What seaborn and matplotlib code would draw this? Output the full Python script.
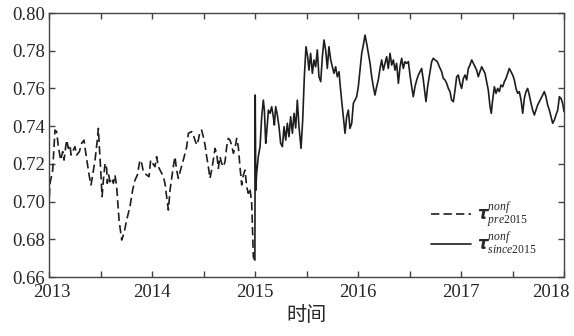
import matplotlib
matplotlib.use("Agg")
import matplotlib.pyplot as plt
import matplotlib.transforms as mtransforms
import seaborn as sns
import numpy as np
import pandas as pd
from matplotlib.ticker import MultipleLocator

# ---------------- data (years since 2013, value) ----------------
pre_t = [0.003, 0.010, 0.036, 0.058, 0.074, 0.091, 0.113, 0.133, 0.146, 0.162,
         0.172, 0.188, 0.204, 0.214, 0.236, 0.252, 0.269, 0.295, 0.317, 0.340,
         0.353, 0.372, 0.392, 0.408, 0.424, 0.447, 0.469, 0.479, 0.489, 0.502,
         0.515, 0.528, 0.544, 0.560, 0.566, 0.579, 0.592, 0.608, 0.625, 0.641,
         0.657, 0.680, 0.706, 0.728, 0.754, 0.786, 0.812, 0.835, 0.858, 0.883,
         0.900, 0.916, 0.948, 0.971, 0.987, 1.006, 1.029, 1.045, 1.061, 1.078,
         1.094, 1.110, 1.126, 1.142, 1.159, 1.175, 1.191, 1.207, 1.223, 1.239,
         1.256, 1.272, 1.304, 1.337, 1.353, 1.385, 1.401, 1.417, 1.434, 1.450,
         1.466, 1.482, 1.498, 1.515, 1.531, 1.547, 1.563, 1.579, 1.595, 1.612,
         1.628, 1.644, 1.660, 1.676, 1.693, 1.709, 1.725, 1.741, 1.757, 1.773,
         1.790, 1.806, 1.822, 1.838, 1.854, 1.871, 1.887, 1.903, 1.919, 1.935,
         1.951, 1.968, 1.984, 1.996]
pre_v = [0.7026, 0.7097, 0.7167, 0.7379, 0.7371, 0.7291, 0.7220, 0.7265, 0.7220, 0.7291,
         0.7326, 0.7282, 0.7300, 0.7247, 0.7273, 0.7291, 0.7247, 0.7265, 0.7309, 0.7326,
         0.7273, 0.7203, 0.7132, 0.7088, 0.7141, 0.7220, 0.7326, 0.7388, 0.7291, 0.7167,
         0.7026, 0.7114, 0.7203, 0.7176, 0.7097, 0.7141, 0.7105, 0.7123, 0.7097, 0.7141,
         0.7079, 0.6902, 0.6796, 0.6832, 0.6902, 0.6973, 0.7061, 0.7114, 0.7141, 0.7220,
         0.7203, 0.7158, 0.7141, 0.7132, 0.7220, 0.7203, 0.7185, 0.7238, 0.7185, 0.7167,
         0.7150, 0.7132, 0.7097, 0.7026, 0.6955, 0.7061, 0.7123, 0.7185, 0.7238, 0.7167,
         0.7123, 0.7158, 0.7220, 0.7291, 0.7362, 0.7371, 0.7353, 0.7326, 0.7300, 0.7326,
         0.7371, 0.7379, 0.7344, 0.7300, 0.7238, 0.7185, 0.7123, 0.7167, 0.7220, 0.7282,
         0.7256, 0.7176, 0.7238, 0.7203, 0.7185, 0.7212, 0.7291, 0.7335, 0.7326, 0.7300,
         0.7256, 0.7282, 0.7335, 0.7291, 0.7185, 0.7088, 0.7141, 0.7167, 0.7079, 0.7044,
         0.7070, 0.6991, 0.6708, 0.6690]

post_t = [1.999, 2.002, 2.008, 2.016, 2.032, 2.049, 2.065, 2.081, 2.091, 2.104,
          2.113, 2.130, 2.146, 2.162, 2.178, 2.188, 2.201, 2.217, 2.233, 2.249,
          2.266, 2.282, 2.298, 2.314, 2.330, 2.346, 2.363, 2.379, 2.395, 2.411,
          2.427, 2.447, 2.463, 2.479, 2.495, 2.511, 2.524, 2.540, 2.557, 2.573,
          2.589, 2.605, 2.621, 2.638, 2.654, 2.670, 2.686, 2.702, 2.718, 2.735,
          2.751, 2.767, 2.783, 2.799, 2.816, 2.825, 2.841, 2.858, 2.874, 2.890,
          2.906, 2.922, 2.939, 2.955, 2.971, 2.987, 3.003, 3.019, 3.036, 3.052,
          3.068, 3.084, 3.100, 3.117, 3.133, 3.149, 3.165, 3.181, 3.197, 3.214,
          3.230, 3.246, 3.262, 3.278, 3.294, 3.311, 3.327, 3.343, 3.359, 3.375,
          3.392, 3.408, 3.424, 3.440, 3.456, 3.472, 3.489, 3.505, 3.521, 3.537,
          3.553, 3.570, 3.586, 3.602, 3.618, 3.634, 3.650, 3.660, 3.676, 3.699,
          3.715, 3.731, 3.748, 3.770, 3.790, 3.812, 3.828, 3.845, 3.861, 3.877,
          3.893, 3.909, 3.926, 3.942, 3.958, 3.974, 3.990, 4.006, 4.023, 4.039,
          4.055, 4.071, 4.087, 4.104, 4.120, 4.136, 4.152, 4.168, 4.184, 4.201,
          4.217, 4.233, 4.249, 4.265, 4.282, 4.294, 4.307, 4.324, 4.340, 4.356,
          4.372, 4.388, 4.405, 4.421, 4.437, 4.453, 4.469, 4.485, 4.502, 4.518,
          4.534, 4.550, 4.566, 4.583, 4.599, 4.615, 4.631, 4.647, 4.663, 4.680,
          4.696, 4.712, 4.728, 4.744, 4.761, 4.777, 4.793, 4.809, 4.825, 4.841,
          4.858, 4.874, 4.890, 4.906, 4.922, 4.939, 4.955, 4.971, 4.987, 5.000]
post_v = [0.6690, 0.7565, 0.7060, 0.7150, 0.7238, 0.7291, 0.7450, 0.7538, 0.7485, 0.7309,
          0.7362, 0.7485, 0.7468, 0.7503, 0.7450, 0.7406, 0.7503, 0.7459, 0.7397, 0.7309,
          0.7291, 0.7397, 0.7326, 0.7415, 0.7344, 0.7450, 0.7362, 0.7468, 0.7390, 0.7538,
          0.7397, 0.7282, 0.7432, 0.7662, 0.7821, 0.7768, 0.7697, 0.7786, 0.7680, 0.7751,
          0.7715, 0.7804, 0.7662, 0.7636, 0.7768, 0.7857, 0.7804, 0.7706, 0.7821, 0.7751,
          0.7715, 0.7680, 0.7715, 0.7662, 0.7689, 0.7627, 0.7538, 0.7450, 0.7362, 0.7450,
          0.7485, 0.7388, 0.7415, 0.7521, 0.7538, 0.7556, 0.7609, 0.7697, 0.7786, 0.7830,
          0.7883, 0.7839, 0.7786, 0.7733, 0.7662, 0.7609, 0.7565, 0.7609, 0.7645, 0.7706,
          0.7751, 0.7697, 0.7733, 0.7768, 0.7706, 0.7786, 0.7724, 0.7751, 0.7697, 0.7733,
          0.7627, 0.7715, 0.7760, 0.7706, 0.7742, 0.7733, 0.7742, 0.7671, 0.7609, 0.7556,
          0.7609, 0.7645, 0.7671, 0.7689, 0.7706, 0.7645, 0.7574, 0.7530, 0.7609, 0.7689,
          0.7742, 0.7760, 0.7751, 0.7742, 0.7715, 0.7689, 0.7653, 0.7645, 0.7627, 0.7600,
          0.7583, 0.7538, 0.7530, 0.7591, 0.7662, 0.7671, 0.7627, 0.7600, 0.7653, 0.7671,
          0.7645, 0.7706, 0.7724, 0.7751, 0.7733, 0.7715, 0.7697, 0.7662, 0.7689, 0.7715,
          0.7697, 0.7680, 0.7636, 0.7591, 0.7503, 0.7468, 0.7538, 0.7609, 0.7574, 0.7600,
          0.7583, 0.7618, 0.7609, 0.7636, 0.7653, 0.7680, 0.7706, 0.7689, 0.7671, 0.7645,
          0.7600, 0.7574, 0.7583, 0.7538, 0.7468, 0.7547, 0.7583, 0.7600, 0.7565, 0.7521,
          0.7485, 0.7459, 0.7485, 0.7512, 0.7530, 0.7547, 0.7565, 0.7583, 0.7556, 0.7512,
          0.7485, 0.7450, 0.7415, 0.7432, 0.7459, 0.7485, 0.7556, 0.7547, 0.7521, 0.7477]

start_year = 2013
year_ticks = [2013, 2014, 2015, 2016, 2017, 2018]
y_ticks = [0.66, 0.68, 0.70, 0.72, 0.74, 0.76, 0.78, 0.80]
label_pre = r'$\boldsymbol{\tau}^{\mathit{nonf}}_{\mathit{pre2015}}$'
label_post = r'$\boldsymbol{\tau}^{\mathit{nonf}}_{\mathit{since2015}}$'
xlabel = "时间"

# ---------------- styling ----------------
sns.set_style("ticks")
plt.rcParams['font.family'] = ['Liberation Serif', 'Noto Sans CJK SC', 'DejaVu Sans']
plt.rcParams['mathtext.fontset'] = 'custom'
plt.rcParams['mathtext.rm'] = 'Liberation Serif'
plt.rcParams['mathtext.it'] = 'Liberation Serif:italic'
plt.rcParams['mathtext.bf'] = 'Liberation Serif:bold'

fig = plt.figure(figsize=(5.74, 3.36), dpi=100)
ax = fig.add_axes([49/574, 1-277/336, (564-49)/574, (277-13)/336])

pre_df = pd.DataFrame({"year": np.array(pre_t) + start_year, "value": pre_v})
post_df = pd.DataFrame({"year": np.array(post_t) + start_year, "value": post_v})

line_color = "#1e1e1e"
sns.lineplot(data=pre_df, x="year", y="value", ax=ax, color=line_color,
             linewidth=1.2, linestyle=(0, (5, 2.5)), label=label_pre)
sns.lineplot(data=post_df, x="year", y="value", ax=ax, color=line_color,
             linewidth=1.2, label=label_post)

ax.set_xlim(2013, 2018)
ax.set_ylim(0.66, 0.80)
ax.set_xticks(year_ticks)
ax.set_xticklabels([str(y) for y in year_ticks])
ax.xaxis.set_minor_locator(MultipleLocator(0.5))
ax.set_yticks(y_ticks)
ax.set_yticklabels([f"{v:.2f}" for v in y_ticks])

for s in ax.spines.values():
    s.set_visible(True)
    s.set_color("#444444")
    s.set_linewidth(1.0)

ax.tick_params(axis='both', which='both', direction='in', top=True, right=True,
               color="#444444", width=1.0, labelsize=13.5, pad=3)
ax.tick_params(which='major', length=4)
ax.tick_params(which='minor', length=4)
ax.tick_params(axis='y', which='minor', left=False, right=False)
ax.tick_params(axis='x', pad=5)

# keep the last year label inside the figure
last = ax.get_xticklabels()[-1]
last.set_horizontalalignment('right')
last.set_transform(last.get_transform() +
                   mtransforms.ScaledTranslation(6/100, 0, fig.dpi_scale_trans))
first = ax.get_xticklabels()[0]
first.set_transform(first.get_transform() +
                    mtransforms.ScaledTranslation(3/100, 0, fig.dpi_scale_trans))

ax.set_xlabel(xlabel, fontsize=14.5, family=['Noto Sans CJK SC', 'DejaVu Sans'], labelpad=3)
ax.set_ylabel("")

leg = ax.legend(loc='lower right', bbox_to_anchor=(0.975, 0.022), frameon=False,
                fontsize=12, handlelength=2.4, handletextpad=0.35, labelspacing=0.1)

fig.savefig("out.png", dpi=100)
